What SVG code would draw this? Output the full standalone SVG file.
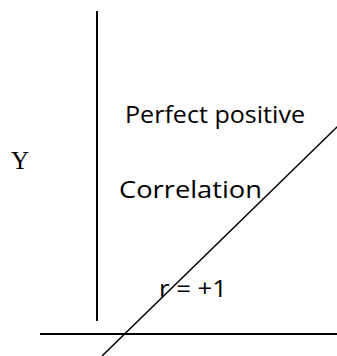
<svg xmlns="http://www.w3.org/2000/svg" width="337" height="356" viewBox="0 0 337 356">
<style>
.t{font-family:"Open Sans","Noto Sans","Liberation Sans",sans-serif;font-size:24px;fill:#000}
.s{font-family:"Liberation Serif","Times New Roman",serif;font-size:25px;fill:#000}
.ln{stroke:#000;fill:none}
</style>
<rect width="337" height="356" fill="#fff"/>
<g id="axes">
<line class="ln" x1="97" y1="11" x2="97" y2="321" stroke-width="2"/>
<line class="ln" x1="40" y1="334" x2="337" y2="334" stroke-width="1.8"/>
</g>
<g id="connectors">
<line class="ln" x1="102" y1="356" x2="338" y2="126" stroke-width="1.5"/>
</g>
<g id="labels">
<text class="s" x="11" y="169">Y</text>
<text class="t" x="125" y="123" textLength="180" lengthAdjust="spacingAndGlyphs">Perfect positive</text>
<text class="t" x="119" y="198" textLength="143" lengthAdjust="spacingAndGlyphs">Correlation</text>
<text class="t" x="159" y="297" textLength="68" lengthAdjust="spacingAndGlyphs">r = +1</text>
</g>
</svg>
